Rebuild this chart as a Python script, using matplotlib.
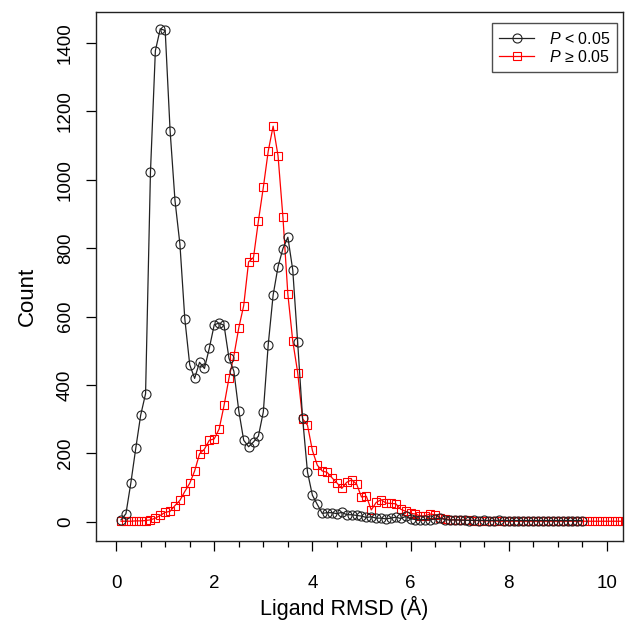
import numpy as np
import matplotlib
matplotlib.use("Agg")
import matplotlib.pyplot as plt
from matplotlib.ticker import MultipleLocator

plt.rcParams['font.family'] = ['Liberation Sans', 'DejaVu Sans']
plt.rcParams['mathtext.fontset'] = 'custom'
plt.rcParams['mathtext.it'] = 'Liberation Sans:italic'
plt.rcParams['mathtext.rm'] = 'Liberation Sans'

# RMSD bins (0.1 A steps)
x_sig = np.round(np.arange(1, 96) * 0.1, 1)      # 0.1 .. 9.5
x_ns = np.round(np.arange(1, 106) * 0.1, 1)      # 0.1 .. 10.5

# P < 0.05
count_sig = [5, 23, 113, 214, 311, 374, 1023, 1378, 1442, 1437,
             1144, 939, 812, 593, 459, 419, 466, 448, 508, 576,
             581, 574, 478, 440, 324, 238, 219, 233, 250, 321,
             518, 663, 746, 799, 832, 736, 524, 303, 145, 77,
             50, 24, 26, 26, 23, 27, 20, 20, 18, 16,
             12, 14, 10, 10, 8, 10, 13, 9, 15, 8,
             6, 5, 6, 5, 8, 10, 6, 4, 5, 4,
             4, 3, 4, 3, 4, 3, 3, 4, 3, 3,
             3, 3, 3, 3, 3, 3, 3, 3, 3, 3,
             3, 3, 3, 3, 3]

# P >= 0.05
count_ns = [1, 1, 1, 2, 2, 3, 5, 10, 18, 27,
            30, 47, 62, 88, 112, 148, 198, 212, 238, 242,
            271, 340, 420, 485, 567, 632, 760, 773, 880, 978,
            1084, 1157, 1070, 890, 665, 528, 436, 301, 282, 208,
            165, 148, 144, 128, 113, 97, 115, 122, 110, 72,
            74, 34, 56, 64, 54, 53, 52, 36, 30, 24,
            22, 16, 17, 22, 20, 10, 8, 6, 5, 5,
            4, 4, 3, 3, 2, 2, 2, 1, 1, 1,
            1, 1, 1, 1, 1, 1, 1, 1, 1, 1,
            1, 1, 1, 1, 1, 1, 1, 1, 1, 1,
            1, 1, 1, 1, 1]

fig = plt.figure(figsize=(6.26, 6.26), dpi=100)
ax = fig.add_axes([96 / 626, 1 - 540.7 / 626, 527 / 626, 529 / 626])

ax.plot(x_sig, count_sig, color='#222222', lw=0.9, marker='o', ms=6.5,
        mfc='none', mec='#222222', mew=0.8, label=r'$P$ < 0.05', zorder=3)
ax.plot(x_ns, count_ns, color='red', lw=0.9, marker='s', ms=5.4,
        mfc='none', mec='red', mew=0.8, label=r'$P$ ≥ 0.05', zorder=2)

ax.set_xlim(-0.41, 10.33)
ax.set_ylim(-56, 1492)
ax.set_xticks(np.arange(0, 11, 2))
ax.xaxis.set_minor_locator(MultipleLocator(0.5))
ax.set_yticks(np.arange(0, 1401, 200))

ax.tick_params(axis='both', which='major', direction='out', length=7,
               width=0.9, labelsize=13.5)
ax.tick_params(axis='x', which='major', pad=18)
ax.tick_params(axis='y', which='major', pad=9)
ax.tick_params(axis='x', which='minor', direction='out', length=4, width=0.9)
for lab in ax.get_yticklabels():
    lab.set_rotation(90)
    lab.set_va('center')

for sp in ax.spines.values():
    sp.set_linewidth(1.0)
    sp.set_color('#222222')

ax.set_xlabel('Ligand RMSD (Å)', fontsize=15.5)
ax.set_ylabel('Count', fontsize=16)
ax.xaxis.set_label_coords(0.4715, -0.128)
ax.yaxis.set_label_coords(-0.131, 0.4626)
ax.xaxis.label.set_va('center')
ax.yaxis.label.set_va('center')

leg = ax.legend(loc='upper right', bbox_to_anchor=(0.989, 0.978),
                borderaxespad=0, fontsize=11.5, frameon=True, fancybox=False,
                handlelength=2.2, handletextpad=0.9, borderpad=0.45,
                labelspacing=0.15)
leg.get_frame().set_edgecolor('#222222')
leg.get_frame().set_linewidth(1.0)

fig.savefig('out.png', dpi=100)
